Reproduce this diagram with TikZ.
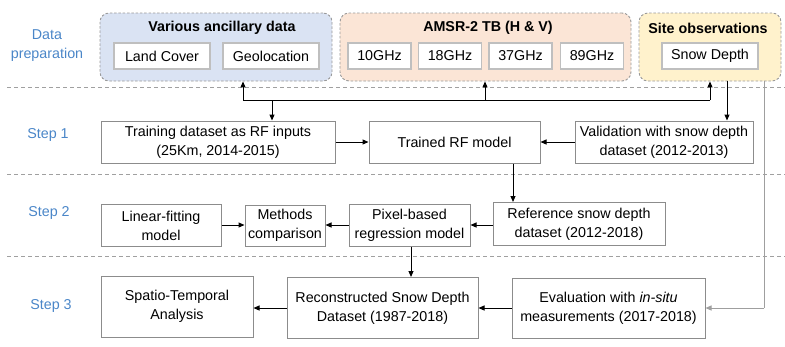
\documentclass[tikz,border=0pt]{standalone}
\usepackage{fontspec}
\setmainfont{Liberation Sans}
\usetikzlibrary{arrows.meta}
\definecolor{grpblue}{HTML}{DAE3F3}
\definecolor{grporange}{HTML}{FBE5D6}
\definecolor{grpyellow}{HTML}{FFF2CC}
\definecolor{steptext}{HTML}{4A86C8}
\definecolor{boxline}{HTML}{8C8C8C}
\definecolor{itemline}{HTML}{BFBFBF}
\definecolor{sepline}{HTML}{A0A0A0}
\tikzset{
  txt/.style={font=\fontsize{14.3}{19}\selectfont},
  grp/.style={draw=gray!80, line width=0.9pt, dash pattern=on 2.5pt off 1.8pt,
              rounded corners=9pt, inner sep=0pt},
  grptitle/.style={txt, font=\fontsize{14.3}{19}\selectfont\bfseries, inner sep=0pt},
  item/.style={txt, draw=itemline, fill=white, line width=1.2pt, inner sep=0pt,
               minimum height=26pt},
  stepbox/.style={txt, draw=boxline, fill=white, line width=1pt, inner sep=0pt,
                  align=center},
  steplbl/.style={txt, text=steptext, align=center, inner sep=0pt},
  arr/.style={-{Triangle[length=6pt,width=5pt]}, line width=1pt, black},
  grayarr/.style={-{Triangle[length=6pt,width=5pt]}, line width=1pt, draw=gray!75, fill=gray!75},
  sep/.style={draw=sepline, line width=1pt, dash pattern=on 4pt off 3pt},
}
\begin{document}
\begin{tikzpicture}[x=1pt, y=-1pt]
\useasboundingbox (0,0) rectangle (785,346);

% section separators
\draw[sep] (7,87) -- (785,87);
\draw[sep] (7,174) -- (785,174);
\draw[sep] (7,256) -- (785,256);

% side labels
\node[steplbl] (lprep) at (47,46) {Data\\preparation};
\node[steplbl] (l1) at (48,135) {Step 1};
\node[steplbl] (l2) at (49,213) {Step 2};
\node[steplbl] (l3) at (51,306) {Step 3};

% input data groups
\node[grp, fill=grpblue, minimum width=232pt, minimum height=68pt] (anc) at (216,47) {};
\node[grp, fill=grporange, minimum width=291pt, minimum height=68pt] (amsr) at (485.5,47) {};
\node[grp, fill=grpyellow, minimum width=142pt, minimum height=68pt] (site) at (710,47) {};

\node[grptitle] (tanc) at (222,28) {Various ancillary data};
\node[grptitle] (tamsr) at (488,28) {AMSR-2 TB (H \& V)};
\node[grptitle] (tsite) at (708,28) {Site observations};

\node[item, minimum width=96pt] (land) at (162,56) {Land Cover};
\node[item, minimum width=96pt] (geo) at (271,56) {Geolocation};
\node[item, minimum width=63pt] (f10) at (379.5,56) {10GHz};
\node[item, minimum width=63pt] (f18) at (450,56) {18GHz};
\node[item, minimum width=63pt] (f37) at (520.5,56) {37GHz};
\node[item, minimum width=63pt] (f89) at (592,56) {89GHz};
\node[item, minimum width=96pt] (sd) at (710,56) {Snow Depth};

% step 1
\node[stepbox, minimum width=234pt, minimum height=42pt] (train) at (218,142)
  {Training dataset as RF inputs\\(25Km, 2014-2015)};
\node[stepbox, minimum width=171pt, minimum height=42pt] (rf) at (454.5,142)
  {Trained RF model};
\node[stepbox, minimum width=178pt, minimum height=42pt] (valid) at (664,142)
  {Validation with snow depth\\dataset (2012-2013)};

% step 2
\node[stepbox, minimum width=120pt, minimum height=42pt] (lin) at (161,225.5)
  {Linear-fitting\\model};
\node[stepbox, minimum width=80pt, minimum height=41pt] (cmp) at (285,225.5)
  {Methods\\comparison};
\node[stepbox, minimum width=121pt, minimum height=42pt] (pix) at (409.5,225)
  {Pixel-based\\regression model};
\node[stepbox, minimum width=172pt, minimum height=43pt] (ref) at (579,224)
  {Reference snow depth\\dataset (2012-2018)};

% step 3
\node[stepbox, minimum width=152pt, minimum height=61pt] (spt) at (177,306.5)
  {Spatio-Temporal\\Analysis};
\node[stepbox, minimum width=191pt, minimum height=61pt] (rec) at (382.5,308)
  {Reconstructed Snow Depth\\Dataset (1987-2018)};
\node[stepbox, minimum width=193pt, minimum height=60pt] (eval) at (608.5,308)
  {Evaluation with \textit{in-situ}\\measurements (2017-2018)};

% data bus feeding the training set
\coordinate (busL) at (243,100);
\coordinate (busM) at (485,100);
\coordinate (busR) at (710,100);
\coordinate (busT) at (272,100);
\draw[line width=1pt] (busL) -- (busR);
\draw[arr] (busL) -- (busL |- anc.south);
\draw[arr] (busM) -- (busM |- amsr.south);
\draw[arr] (busR) -- (busR |- site.south);
\draw[arr] (busT) -- (busT |- train.north);

% site observations to validation and evaluation
\coordinate (vx) at (727,0);
\draw[arr] (site.south -| vx) -- (valid.north -| vx);
\coordinate (gx) at (764,0);
\coordinate (gcorner) at (764,308);
\draw[line width=1pt, draw=gray!75] (site.south -| gx) -- (gcorner);
\draw[grayarr] (gcorner) -- (eval.east);

% step 1 flow
\draw[arr] (train.east) -- (rf.west);
\draw[arr] (valid.west) -- (rf.east);
\coordinate (rx) at (513,0);
\draw[arr] (rf.south -| rx) -- (ref.north -| rx);

% step 2 flow
\draw[arr] (lin.east |- 0,225) -- (cmp.west |- 0,225);
\draw[arr] (pix.west |- 0,225) -- (cmp.east |- 0,225);
\draw[arr] (ref.west |- 0,225) -- (pix.east |- 0,225);
\coordinate (px) at (411,0);
\draw[arr] (pix.south -| px) -- (rec.north -| px);

% step 3 flow
\draw[arr] (rec.west |- 0,308) -- (spt.east |- 0,308);
\draw[arr] (eval.west) -- (rec.east);
\end{tikzpicture}
\end{document}
